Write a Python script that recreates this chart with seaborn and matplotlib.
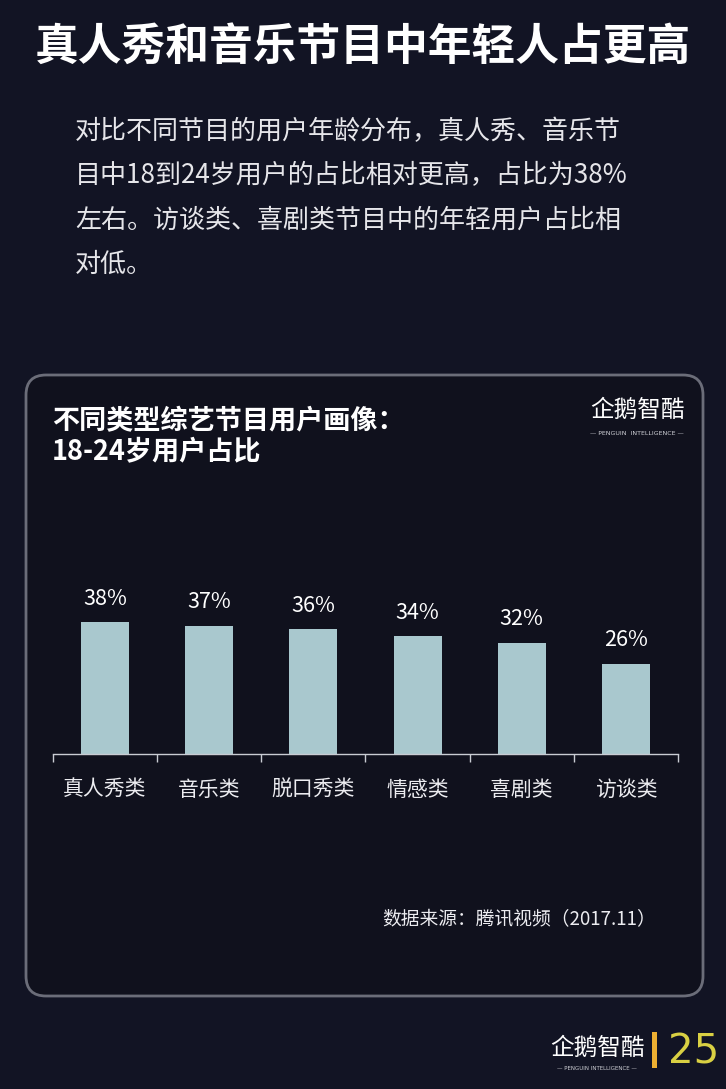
import numpy as np
import pandas as pd
import matplotlib
matplotlib.use('Agg')
import matplotlib.pyplot as plt
import seaborn as sns
from matplotlib.patches import FancyBboxPatch, Rectangle
from matplotlib.transforms import IdentityTransform
from matplotlib.ticker import FixedLocator

# data
categories = ['真人秀类', '音乐类', '脱口秀类', '情感类', '喜剧类', '访谈类']
shares = [38, 37, 36, 34, 32, 26]
value_labels = ['38%', '37%', '36%', '34%', '32%', '26%']

title = '真人秀和音乐节目中年轻人占更高'
body_lines = ['对比不同节目的用户年龄分布，真人秀、音乐节',
              '目中18到24岁用户的占比相对更高，占比为38%',
              '左右。访谈类、喜剧类节目中的年轻用户占比相',
              '对低。']
chart_title = ['不同类型综艺节目用户画像：', '18-24岁用户占比']
source = '数据来源：腾讯视频（2017.11）'
page_no = '25'

W, H = 726, 1089
BG = '#121424'
BAR = '#a9c8ce'

sns.set_style('dark')
plt.rcParams['font.family'] = ['Noto Sans CJK SC', 'DejaVu Sans']

fig = plt.figure(figsize=(W / 100, H / 100), dpi=100, facecolor=BG)


def fy(py):
    return 1 - py / H


def fx(px):
    return px / W


# panel
panel = FancyBboxPatch((26, H - 996), 677, 621,
                       boxstyle='round,pad=0,rounding_size=20',
                       transform=IdentityTransform(),
                       facecolor='#10111d', edgecolor='#6b6d79', linewidth=2,
                       zorder=-1)
fig.patches.append(panel)

# headline and intro text
fig.text(0.5, fy(47), title, color='white', fontsize=31.5, fontweight='bold',
         ha='center', va='center')
for i, line in enumerate(body_lines):
    fig.text(fx(75), fy(132 + i * 44), line, color='#e6e6ea', fontsize=18.75,
             ha='left', va='center')

# chart title
fig.text(fx(52), fy(421), chart_title[0], color='white', fontsize=19.5,
         fontweight='bold', ha='left', va='center')
fig.text(fx(52), fy(451), chart_title[1], color='white', fontsize=19.5,
         fontweight='bold', ha='left', va='center')

# logo in panel
fig.text(fx(637), fy(410), '企鹅智酷', color='white', fontsize=17,
         ha='center', va='center')
fig.text(fx(637), fy(433), '— PENGUIN  INTELLIGENCE —', color='#cfd0d6',
         fontsize=4.5, ha='center', va='center', family=['DejaVu Sans'])

# bar chart
ax = fig.add_axes([fx(53), fy(754), fx(678) - fx(53), 200 / H])
ax.set_zorder(2)
ax.set_facecolor('none')
df = pd.DataFrame({'category': categories, 'share': shares})
sns.barplot(data=df, x='category', y='share', color=BAR, width=0.46,
            saturation=1, linewidth=0, ax=ax)
ax.set_xlim(-0.5, len(categories) - 0.5)
ax.set_ylim(0, 200 / 3.47)
ax.grid(False)
for s in ['top', 'right', 'left']:
    ax.spines[s].set_visible(False)
ax.spines['bottom'].set_color('#c9ccd3')
ax.spines['bottom'].set_linewidth(1)
ax.set_yticks([])
ax.set_xlabel('')
ax.set_ylabel('')
ax.tick_params(axis='x', which='major', length=0, pad=18, labelsize=15,
               labelcolor='#ececf0')
ax.xaxis.set_minor_locator(FixedLocator(np.arange(-0.5, len(categories), 1.0)))
ax.tick_params(axis='x', which='minor', bottom=True, length=6, width=1,
               color='#c9ccd3', direction='out')

for i, (v, lab) in enumerate(zip(shares, value_labels)):
    ax.annotate(lab, (i, v), xytext=(0, 9), textcoords='offset points',
                ha='center', va='bottom', color='white', fontsize=15.5)

# source
fig.text(fx(656), fy(920), source, color='#ececf0', fontsize=13.5,
         ha='right', va='center')

# footer logo and page number
fig.text(fx(597), fy(1048), '企鹅智酷', color='white', fontsize=17,
         ha='center', va='center')
fig.text(fx(597), fy(1068), '— PENGUIN INTELLIGENCE —', color='#cfd0d6',
         fontsize=4, ha='center', va='center', family=['DejaVu Sans'])
fig.patches.append(Rectangle((652, H - 1068), 5, 36, transform=IdentityTransform(),
                             facecolor='#eeb032', edgecolor='none'))
fig.text(fx(668), fy(1052), page_no, color='#d9d043', fontsize=29,
         ha='left', va='center', family=['DejaVu Sans'])

fig.savefig('out.png', dpi=100, facecolor=BG)
